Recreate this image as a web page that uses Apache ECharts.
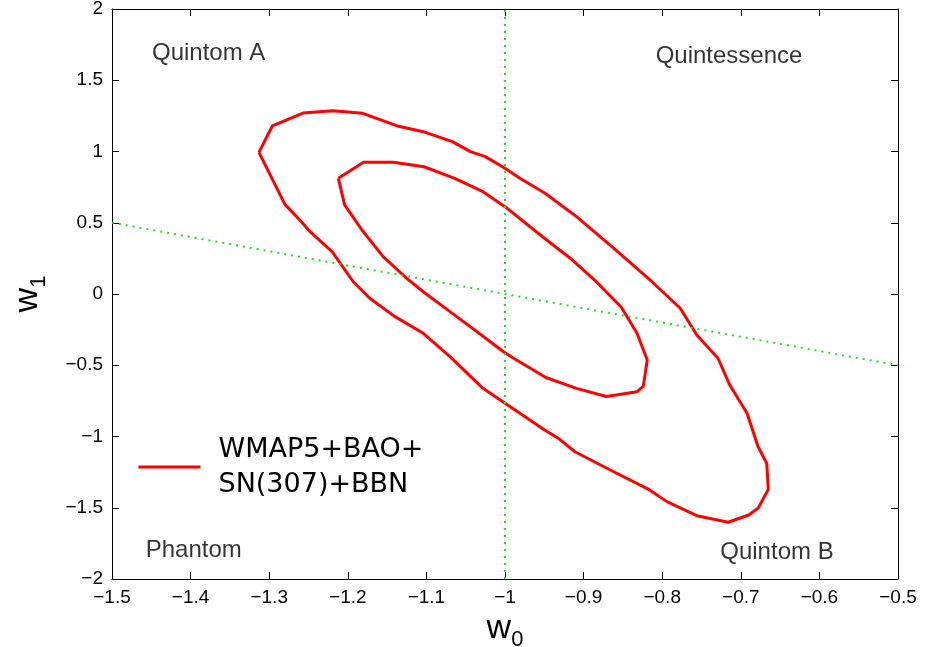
<!DOCTYPE html>
<html>
<head>
<meta charset="utf-8">
<script src="https://cdn.jsdelivr.net/npm/echarts@6/dist/echarts.min.js"></script>
<style>
html,body{margin:0;padding:0;background:#fff;}
#chart{width:927px;height:647px;}
</style>
</head>
<body>
<div id="chart"></div>
<script>
// 95% (outer) confidence contour in the (w0, w1) plane
var outerW0 = [-1.313,-1.296,-1.257,-1.219,-1.181,-1.138,-1.104,-1.067,-1.044,-1.025,-1.000,-0.981,-0.949,-0.909,-0.864,-0.813,-0.777,-0.756,-0.729,-0.714,-0.692,-0.678,-0.667,-0.665,-0.678,-0.690,-0.716,-0.756,-0.794,-0.816,-0.866,-0.911,-0.932,-0.951,-0.981,-1.006,-1.028,-1.070,-1.104,-1.140,-1.172,-1.193,-1.220,-1.248,-1.259,-1.280,-1.313];
var outerW1 = [0.994,1.179,1.270,1.286,1.268,1.181,1.139,1.069,0.999,0.964,0.882,0.812,0.707,0.543,0.332,0.086,-0.100,-0.288,-0.451,-0.639,-0.837,-1.072,-1.188,-1.371,-1.504,-1.551,-1.602,-1.556,-1.457,-1.375,-1.235,-1.107,-1.013,-0.949,-0.837,-0.744,-0.662,-0.440,-0.276,-0.159,-0.030,0.086,0.297,0.437,0.507,0.629,0.994];
// 68% (inner) confidence contour
var innerW0 = [-1.212,-1.180,-1.142,-1.103,-1.064,-1.028,-1.000,-0.955,-0.917,-0.886,-0.852,-0.832,-0.819,-0.824,-0.832,-0.871,-0.909,-0.948,-0.989,-1.002,-1.030,-1.070,-1.104,-1.125,-1.155,-1.182,-1.204,-1.212];
var innerW1 = [0.812,0.924,0.924,0.893,0.812,0.718,0.613,0.414,0.251,0.098,-0.093,-0.276,-0.463,-0.646,-0.686,-0.719,-0.662,-0.586,-0.451,-0.405,-0.288,-0.124,0.016,0.110,0.262,0.449,0.625,0.812];
// reference lines: w0 = -1 and w0 + w1 = -1
var vLineW0 = [-1, -1];
var vLineW1 = [-2, 2];
var dLineW0 = [-1.5, -0.5];
var dLineW1 = [0.5, -0.5];
// region labels
var regionNames = ['Quintom A', 'Quintessence', 'Phantom', 'Quintom B'];
var regionW0 = [-1.377, -0.715, -1.396, -0.654];
var regionW1 = [1.691, 1.667, -1.800, -1.814];
var seriesName = 'WMAP5+BAO+\nSN(307)+BBN';

function zip(a, b) { return a.map(function (v, i) { return [v, b[i]]; }); }
function minus(v) { return String(v).replace('-', '\u2212'); }

var FONT = '"Liberation Sans", Arial, Helvetica, sans-serif';
var chart = echarts.init(document.getElementById('chart'), null, {renderer: 'canvas'});

var axisCommon = {
  axisLine: {show: true, onZero: false, lineStyle: {color: '#000', width: 1}},
  axisTick: {show: true, inside: true, length: 7, lineStyle: {color: '#000', width: 1}},
  splitLine: {show: false}
};

var option = {
  backgroundColor: '#fff',
  animation: false,
  grid: {left: 112, right: 29, top: 9, bottom: 68, containLabel: false, outerBoundsMode: 'none'},
  legend: {
    left: 137, top: 432, padding: 0,
    itemWidth: 62, itemHeight: 14,
    data: [{name: seriesName}],
    itemStyle: {color: 'transparent', borderWidth: 0, opacity: 0},
    lineStyle: {width: 3, color: '#ff0000'},
    textStyle: {fontFamily: '"DejaVu Sans", sans-serif', fontSize: 27, color: '#000', lineHeight: 35, padding: [0, 0, 0, 13]}
  },
  xAxis: [
    Object.assign({
      type: 'value', min: -1.5, max: -0.5, interval: 0.1, position: 'bottom',
      name: '{a|w}{b|0}', nameLocation: 'middle', nameGap: 26,
      nameTextStyle: {rich: {
        a: {fontFamily: FONT, fontSize: 34, color: '#000'},
        b: {fontFamily: FONT, fontSize: 22, color: '#000', verticalAlign: 'bottom', padding: [22, 0, 0, 0]}
      }},
      axisLabel: {fontFamily: FONT, fontSize: 19, color: '#000', margin: 9, formatter: minus}
    }, axisCommon),
    Object.assign({
      type: 'value', min: -1.5, max: -0.5, interval: 0.1, position: 'top',
      axisLabel: {show: false}
    }, axisCommon)
  ],
  yAxis: [
    Object.assign({
      type: 'value', min: -2, max: 2, interval: 0.5, position: 'left',
      name: '{a|w}{b|1}', nameLocation: 'middle', nameGap: 62, nameRotate: 90,
      nameTextStyle: {rich: {
        a: {fontFamily: FONT, fontSize: 34, color: '#000'},
        b: {fontFamily: FONT, fontSize: 22, color: '#000', verticalAlign: 'bottom', padding: [22, 0, 0, 0]}
      }},
      axisLabel: {fontFamily: FONT, fontSize: 19, color: '#000', margin: 9, formatter: minus}
    }, axisCommon),
    Object.assign({
      type: 'value', min: -2, max: 2, interval: 0.5, position: 'right',
      axisLabel: {show: false}
    }, axisCommon)
  ],
  series: [
    {
      name: seriesName, type: 'line', data: zip(outerW0, outerW1),
      symbol: 'none', smooth: false, lineStyle: {color: '#ff0000', width: 3}, itemStyle: {color: '#ff0000'}, z: 3
    },
    {
      name: seriesName, type: 'line', data: zip(innerW0, innerW1),
      symbol: 'none', smooth: false, lineStyle: {color: '#ff0000', width: 3}, itemStyle: {color: '#ff0000'}, z: 3
    },
    {
      name: 'w0=-1', type: 'line', data: zip(vLineW0, vLineW1), symbol: 'none',
      lineStyle: {color: '#22dd22', width: 2, type: [2, 5]}, z: 4
    },
    {
      name: 'w0+w1=-1', type: 'line', data: zip(dLineW0, dLineW1), symbol: 'none',
      lineStyle: {color: '#22dd22', width: 2, type: [2, 5]}, z: 4
    },
    {
      name: 'regions', type: 'scatter', symbolSize: 0, silent: true,
      data: regionNames.map(function (n, i) { return {value: [regionW0[i], regionW1[i]], name: n}; }),
      label: {show: true, position: 'inside', formatter: '{b}', fontFamily: FONT, fontSize: 24, color: '#000'}
    }
  ]
};
chart.setOption(option);
</script>
</body>
</html>
